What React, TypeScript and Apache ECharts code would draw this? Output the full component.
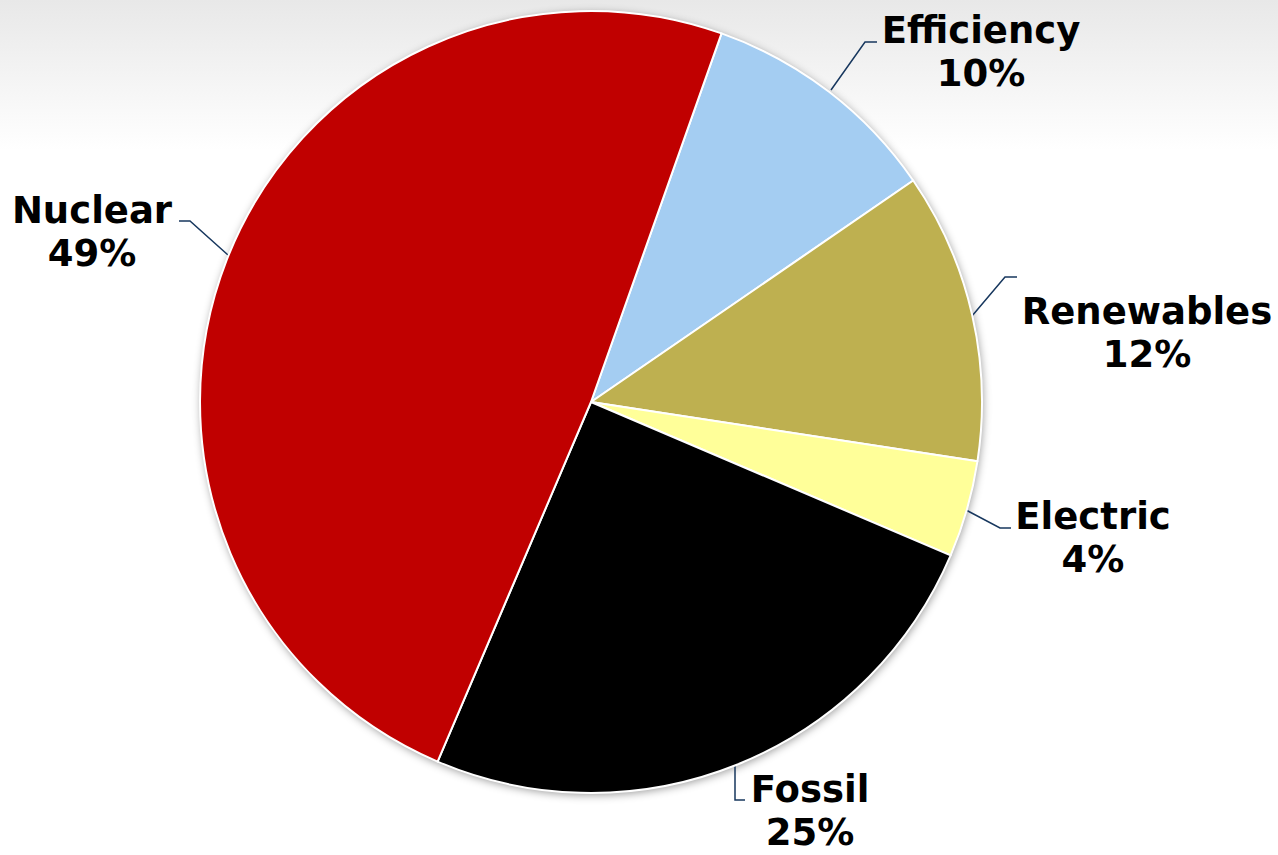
import React, { useEffect, useRef } from "react";
import * as echarts from "echarts";

const categories = ["Efficiency", "Renewables", "Electric", "Fossil", "Nuclear"];
const values = [10, 12, 4, 25, 49];
const colors = ["#A4CDF2", "#BEB050", "#FFFF99", "#000000", "#C00000"];

// label anchor (center of two-line label) and leader line points, per category
const labelPos: number[][] = [
  [981, 52],
  [1147, 333],
  [1093, 538],
  [810, 811],
  [92, 232],
];
const linePts: number[][][] = [
  [[831, 90], [865, 42], [877, 42]],
  [[972, 316], [1005, 277], [1017, 277]],
  [[966, 510], [1000, 528], [1011, 528]],
  [[735, 765], [735, 800], [745, 800]],
  [[228, 255], [190, 221], [179, 221]],
];

export default function App() {
  const ref = useRef<HTMLDivElement>(null);
  useEffect(() => {
    document.body.style.margin = "0";
    const chart = echarts.init(ref.current!, null, { renderer: "svg" });
    chart.setOption({
      animation: false,
      backgroundColor: "#ffffff",
      graphic: [
        {
          type: "rect",
          z: -10,
          shape: { x: 0, y: 0, width: 1278, height: 150 },
          style: {
            fill: new echarts.graphic.LinearGradient(0, 0, 0, 1, [
              { offset: 0, color: "#e8e8e8" },
              { offset: 1, color: "#ffffff" },
            ]),
          },
        },
      ],
      series: [
        {
          type: "pie",
          z: 1,
          silent: true,
          center: [591, 402],
          radius: 391,
          label: { show: false },
          labelLine: { show: false },
          itemStyle: {
            color: "#ffffff",
            shadowBlur: 8,
            shadowColor: "rgba(0,0,0,0.4)",
            shadowOffsetX: 1,
            shadowOffsetY: 2,
          },
          data: [{ name: "shadow", value: 1 }],
        },
        {
          type: "pie",
          z: 2,
          center: [591, 402],
          radius: 391,
          startAngle: 70.5,
          clockwise: true,
          itemStyle: {
            borderColor: "#ffffff",
            borderWidth: 2,
          },
          label: {
            show: true,
            formatter: "{b}\n{c}%",
            fontFamily: "DejaVu Sans",
            fontWeight: "bold",
            fontSize: 37,
            lineHeight: 43,
            color: "#000000",
            align: "center",
            overflow: "none",
            width: 320,
          },
          labelLine: {
            show: true,
            lineStyle: { color: "#17375E", width: 1.5 },
          },
          labelLayout: (params: any) => {
            const i = params.dataIndex;
            return {
              x: labelPos[i][0],
              y: labelPos[i][1],
              align: "center",
              verticalAlign: "middle",
              labelLinePoints: linePts[i],
            };
          },
          data: categories.map((name, i) => ({
            name,
            value: values[i],
            itemStyle: { color: colors[i] },
          })),
        },
      ],
    });
    return () => chart.dispose();
  }, []);
  return (
    <div
      ref={ref}
      style={{ position: "absolute", left: 0, top: 0, width: 1278, height: 855 }}
    />
  );
}
